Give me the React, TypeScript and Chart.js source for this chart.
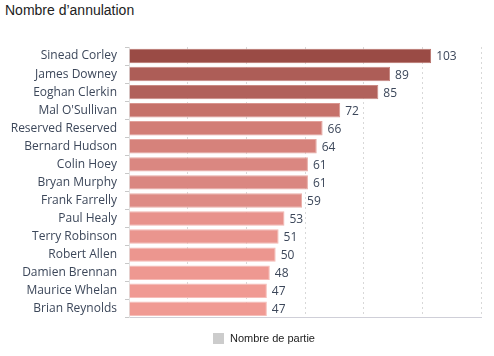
import React, { useEffect, useRef } from "react";
import { Chart, registerables } from "chart.js";

Chart.register(...registerables);

const names = [
  "Sinead Corley",
  "James Downey",
  "Eoghan Clerkin",
  "Mal O'Sullivan",
  "Reserved Reserved",
  "Bernard Hudson",
  "Colin Hoey",
  "Bryan Murphy",
  "Frank Farrelly",
  "Paul Healy",
  "Terry Robinson",
  "Robert Allen",
  "Damien Brennan",
  "Maurice Whelan",
  "Brian Reynolds",
];
const values = [103, 89, 85, 72, 66, 64, 61, 61, 59, 53, 51, 50, 48, 47, 47];
const barColors = [
  "#9a4b45", "#ad5d57", "#b1615b", "#c6716a", "#d27d76",
  "#d6827b", "#da8781", "#da8781", "#de8b85", "#e8928c",
  "#ea958e", "#ec968f", "#ee9891", "#f09a93", "#f09a93",
];
const borderColors = [
  "#b8706a", "#c68680", "#c98a84", "#d9958f", "#e2a19b",
  "#e4a59f", "#e7aaa4", "#e7aaa4", "#eaaea8", "#f1b5b0",
  "#f2b7b2", "#f3b9b4", "#f5bbb6", "#f6bdb8", "#f6bdb8",
];
const legendLabel = "Nombre de partie";
const titleText = "Nombre d\u2019annulation";

const LABEL_FONT = "'Open Sans', sans-serif";
const TEXT_COLOR = "#3c475a";

const valueLabels = {
  id: "valueLabels",
  afterDatasetsDraw(chart: any) {
    const ctx = chart.ctx;
    const meta = chart.getDatasetMeta(0);
    ctx.save();
    ctx.font = `12px ${LABEL_FONT}`;
    ctx.fillStyle = TEXT_COLOR;
    ctx.textBaseline = "middle";
    ctx.textAlign = "left";
    meta.data.forEach((bar: any, i: number) => {
      ctx.fillText(String(values[i]), bar.x + 5, bar.y + 1);
    });
    ctx.restore();
  },
};

export default function App() {
  const ref = useRef<HTMLCanvasElement>(null);
  useEffect(() => {
    document.body.style.margin = "0";
    const chart = new Chart(ref.current!, {
      type: "bar",
      data: {
        labels: names,
        datasets: [
          {
            label: legendLabel,
            data: values,
            backgroundColor: barColors,
            borderColor: borderColors,
            borderWidth: 1,
            barPercentage: 0.8,
            categoryPercentage: 1,
          },
        ],
      },
      options: {
        indexAxis: "y",
        animation: false,
        responsive: false,
        maintainAspectRatio: false,
        layout: { padding: { top: 47, bottom: 0, left: 0, right: 13 } },
        plugins: {
          legend: { display: false },
          title: { display: false },
          tooltip: { enabled: false },
        },
        scales: {
          x: {
            min: 0,
            max: 120,
            ticks: { display: false, stepSize: 20 },
            grid: {
              color: "#d8d8d8",
              drawTicks: false,
              tickLength: 0,
            },
            border: { display: true, color: "#cfcfd8", dash: [2, 3] as any },
          },
          y: {
            afterFit(scale: any) {
              scale.width = 129;
            },
            ticks: {
              font: { family: LABEL_FONT, size: 12 },
              color: TEXT_COLOR,
              padding: 8,
            },
            grid: {
              drawOnChartArea: false,
              drawTicks: true,
              tickLength: 4,
              color: "#c8c8c8",
            },
            border: { display: true, color: "#e3e3e3" },
          },
        },
      },
      plugins: [valueLabels],
    });
    return () => chart.destroy();
  }, []);

  return (
    <div style={{ position: "relative", width: 494, height: 356, background: "#fff" }}>
      <div
        style={{
          position: "absolute",
          left: 5,
          top: 2,
          font: "14px 'Liberation Sans', Arial, sans-serif",
          color: "#222",
        }}
      >
        {titleText}
      </div>
      <canvas
        ref={ref}
        width={494}
        height={333}
        style={{ position: "absolute", left: 0, top: 0, width: 494, height: 333 }}
      />
      <div
        style={{
          position: "absolute",
          left: 213,
          top: 332,
          display: "flex",
          alignItems: "center",
          font: "11px 'Liberation Sans', Arial, sans-serif",
          color: "#222",
        }}
      >
        <span style={{ display: "inline-block", width: 11, height: 11, background: "#cccccc", marginRight: 6 }} />
        <span>{legendLabel}</span>
      </div>
    </div>
  );
}
